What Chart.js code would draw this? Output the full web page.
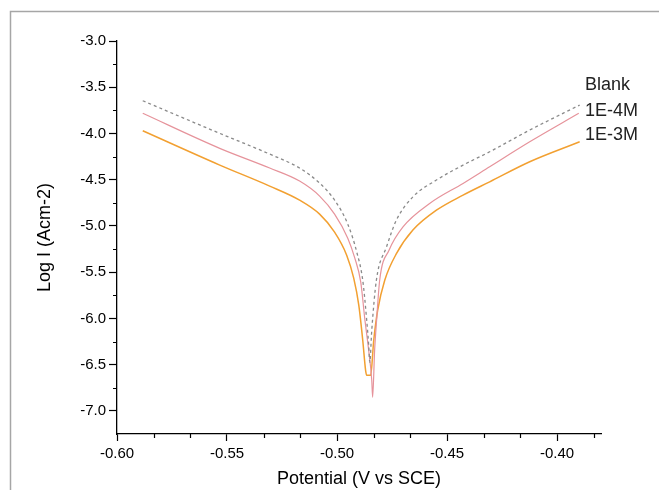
<!DOCTYPE html>
<html>
<head>
<meta charset="utf-8">
<script src="https://cdn.jsdelivr.net/npm/chart.js@4.4.1/dist/chart.umd.min.js"></script>
<style>
  html, body { margin: 0; padding: 0; background: #fff; }
</style>
</head>
<body>
<canvas id="chart" width="659" height="490"></canvas>
<script>
const seriesNames = ['Blank', '1E-4M', '1E-3M'];

// potential (V vs SCE) / log I
const blankPotential = [-0.5883, -0.5533, -0.5306, -0.5170, -0.5079, -0.5011, -0.4951, -0.4910, -0.4883, -0.4865, -0.4856, -0.4851,
  -0.4842, -0.4821, -0.4775, -0.4730, -0.4655, -0.4548, -0.4427, -0.4306, -0.4124, -0.3897];
const blankLogI = [-3.646, -3.999, -4.223, -4.374, -4.537, -4.721, -4.981, -5.284, -5.587, -6.019, -6.290, -6.474,
  -6.128, -5.587, -5.227, -4.937, -4.685, -4.504, -4.342, -4.198, -3.963, -3.693];

const inh4Potential = [-0.5883, -0.5533, -0.5306, -0.5170, -0.5079, -0.5011, -0.4951, -0.4919, -0.4892, -0.4874, -0.4856, -0.4842,
  -0.4838, -0.4829, -0.4820, -0.4806, -0.4763, -0.4700, -0.4579, -0.4427, -0.4306, -0.4124, -0.3901];
const inh4LogI = [-3.782, -4.161, -4.374, -4.515, -4.677, -4.872, -5.132, -5.348, -5.608, -5.998, -6.344, -6.669,
  -6.853, -6.344, -6.019, -5.587, -5.260, -5.010, -4.757, -4.540, -4.360, -4.090, -3.782];

const inh3Potential = [-0.5883, -0.5533, -0.5306, -0.5170, -0.5079, -0.5011, -0.4956, -0.4924, -0.4901, -0.4883, -0.4870, -0.4865,
  -0.4847, -0.4833, -0.4815, -0.4783, -0.4730, -0.4655, -0.4548, -0.4427, -0.4306, -0.4124, -0.3897];
const inh3LogI = [-3.971, -4.342, -4.569, -4.721, -4.872, -5.067, -5.316, -5.565, -5.857, -6.236, -6.561, -6.615,
  -6.615, -6.236, -5.911, -5.587, -5.300, -5.045, -4.830, -4.667, -4.523, -4.306, -4.090];

const xTickValues = [-0.60, -0.55, -0.50, -0.45, -0.40];
const xMinorTicks = [-0.5833, -0.5667, -0.5333, -0.5167, -0.4833, -0.4667, -0.4333, -0.4167, -0.3833];
const yTickValues = [-7.0, -6.5, -6.0, -5.5, -5.0, -4.5, -4.0, -3.5, -3.0];
const yMinorTicks = [-6.75, -6.25, -5.75, -5.25, -4.75, -4.25, -3.75, -3.25];

const FONT = '"Liberation Sans", Arial, sans-serif';

function toPoints(xs, ys) {
  return xs.map((x, i) => ({ x, y: ys[i] }));
}

const framePlugin = {
  id: 'frame',
  beforeDraw(chart) {
    const { ctx, width } = chart;
    ctx.save();
    ctx.strokeStyle = '#a6a6a6';
    ctx.lineWidth = 1.5;
    ctx.beginPath();
    ctx.moveTo(10.5, chart.height);
    ctx.lineTo(10.5, 11.5);
    ctx.lineTo(width, 11.5);
    ctx.stroke();
    ctx.restore();
  }
};

const minorTickPlugin = {
  id: 'minorTicks',
  afterDraw(chart) {
    const { ctx, scales: { x, y } } = chart;
    ctx.save();
    ctx.strokeStyle = '#000';
    ctx.lineWidth = 1.2;
    ctx.beginPath();
    xMinorTicks.forEach(v => {
      const px = Math.round(x.getPixelForValue(v)) + 0.5;
      ctx.moveTo(px, x.top);
      ctx.lineTo(px, x.top + 4);
    });
    yMinorTicks.forEach(v => {
      const py = Math.round(y.getPixelForValue(v)) + 0.5;
      ctx.moveTo(y.right, py);
      ctx.lineTo(y.right - 4, py);
    });
    ctx.stroke();
    ctx.restore();
  }
};

// series names sit to the right of the line ends, as in the original
const seriesLabelPlugin = {
  id: 'seriesLabels',
  afterDraw(chart) {
    const { ctx, chartArea } = chart;
    const offsets = [44, 70.5, 94];
    ctx.save();
    ctx.fillStyle = '#222';
    ctx.font = `18px ${FONT}`;
    ctx.textBaseline = 'middle';
    seriesNames.forEach((name, i) => {
      ctx.fillText(name, chartArea.right - 16, chartArea.top + offsets[i]);
    });
    ctx.restore();
  }
};

const lineDefaults = {
  showLine: true,
  pointRadius: 0,
  fill: false,
  cubicInterpolationMode: 'monotone',
};

new Chart(document.getElementById('chart'), {
  type: 'scatter',
  data: {
    datasets: [
      {
        ...lineDefaults,
        label: seriesNames[0],
        data: toPoints(blankPotential, blankLogI),
        borderColor: '#8a8a8a',
        borderWidth: 1.3,
        borderDash: [3, 3],
      },
      {
        ...lineDefaults,
        label: seriesNames[1],
        data: toPoints(inh4Potential, inh4LogI),
        borderColor: '#e6939b',
        borderWidth: 1.2,
      },
      {
        ...lineDefaults,
        label: seriesNames[2],
        data: toPoints(inh3Potential, inh3LogI),
        borderColor: '#f2a031',
        borderWidth: 1.5,
      },
    ],
  },
  options: {
    responsive: false,
    animation: false,
    devicePixelRatio: 1,
    layout: { padding: { top: 41, right: 58, left: 0, bottom: 0 } },
    plugins: {
      legend: { display: false },
      tooltip: { enabled: false },
    },
    scales: {
      x: {
        type: 'linear',
        min: -0.60,
        max: -0.38,
        afterBuildTicks: scale => { scale.ticks = xTickValues.map(value => ({ value })); },
        afterFit: scale => { scale.height = 56; },
        ticks: {
          callback: v => v.toFixed(2),
          color: '#000',
          font: { family: FONT, size: 15 },
          padding: 4,
          maxRotation: 0,
          autoSkip: false,
        },
        grid: {
          drawOnChartArea: false,
          drawTicks: true,
          tickLength: 7,
          tickColor: '#000',
          tickWidth: 1.2,
        },
        border: { display: true, color: '#000', width: 1.3 },
        title: {
          display: true,
          text: 'Potential (V vs SCE)',
          color: '#000',
          font: { family: FONT, size: 18 },
          padding: { top: 0, bottom: 0 },
        },
      },
      y: {
        type: 'linear',
        min: -7.25,
        max: -3.0,
        afterBuildTicks: scale => { scale.ticks = yTickValues.map(value => ({ value })); },
        afterFit: scale => { scale.width = 117; },
        ticks: {
          callback: v => v.toFixed(1),
          color: '#000',
          font: { family: FONT, size: 15 },
          padding: 3,
          autoSkip: false,
        },
        grid: {
          drawOnChartArea: false,
          drawTicks: true,
          tickLength: 8,
          tickColor: '#000',
          tickWidth: 1.2,
        },
        border: { display: true, color: '#000', width: 1.3 },
        title: {
          display: true,
          text: 'Log I (Acm-2)',
          color: '#000',
          font: { family: FONT, size: 18 },
          padding: { top: 34, bottom: 0 },
        },
      },
    },
  },
  plugins: [framePlugin, minorTickPlugin, seriesLabelPlugin],
});
</script>
</body>
</html>
